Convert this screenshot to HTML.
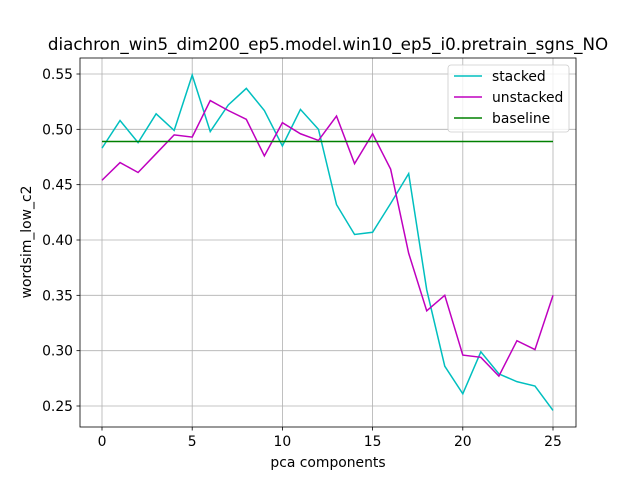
<!DOCTYPE html>
<html><head><meta charset="utf-8"><style>
body{margin:0;background:#fff;}
svg{display:block;font-family:"DejaVu Sans","Liberation Sans",sans-serif;}
</style></head><body>
<svg id="chart" width="640" height="480"></svg>
<script>
const xValues = [0,1,2,3,4,5,6,7,8,9,10,11,12,13,14,15,16,17,18,19,20,21,22,23,24,25];
const stacked = [0.483,0.508,0.488,0.514,0.499,0.549,0.498,0.522,0.537,0.517,0.485,0.518,0.500,0.432,0.405,0.407,0.433,0.460,0.355,0.286,0.261,0.299,0.279,0.272,0.268,0.246];
const unstacked = [0.454,0.470,0.461,0.478,0.495,0.493,0.526,0.517,0.509,0.476,0.506,0.496,0.490,0.512,0.469,0.496,0.464,0.388,0.336,0.350,0.296,0.294,0.277,0.309,0.301,0.350];
const baselineValue = 0.489;
const xTicks = [0,5,10,15,20,25];
const yTicks = [0.25,0.30,0.35,0.40,0.45,0.50,0.55];

const NS="http://www.w3.org/2000/svg";
const svg=document.getElementById('chart');
const L=80,R=576,T=58,B=427;
const xs=v=>102+(v-0)*(553-102)/25;
const ys=v=>406-(v-0.25)*(406-74)/0.30;
function mk(tag,attrs,parent){const e=document.createElementNS(NS,tag);for(const k in attrs)e.setAttribute(k,attrs[k]);(parent||svg).appendChild(e);return e;}

const grid=mk('g',{});


xTicks.forEach(t=>{
  mk('line',{x1:xs(t),x2:xs(t),y1:T,y2:B,stroke:'#b0b0b0','stroke-width':0.8},grid);
  mk('line',{x1:xs(t),x2:xs(t),y1:B,y2:B+3.5,stroke:'#000','stroke-width':0.8},grid);
  const tx=mk('text',{x:xs(t),y:B+19,'font-size':13.9,'text-anchor':'middle'},grid);
  tx.textContent=t;
  
  
});
yTicks.forEach(t=>{
  mk('line',{x1:L,x2:R,y1:ys(t),y2:ys(t),stroke:'#b0b0b0','stroke-width':0.8},grid);
  mk('line',{x1:L-3.5,x2:L,y1:ys(t),y2:ys(t),stroke:'#000','stroke-width':0.8},grid);
  const tx=mk('text',{x:L-7,y:ys(t)+5,'font-size':13.9,'text-anchor':'end'},grid);
  tx.textContent=t.toFixed(2);
  
  
});

function series(vals,color,name){
  const p=mk('polyline',{points:vals.map((v,i)=>xs(xValues[i])+','+ys(v)).join(' '),fill:'none',stroke:color,'stroke-width':1.5});
  
  
}
series(stacked,'#00bfbf','stacked-line');
series(unstacked,'#bf00bf','unstacked-line');
const bl=mk('line',{x1:xs(xValues[0]),x2:xs(xValues[xValues.length-1]),y1:ys(baselineValue),y2:ys(baselineValue),stroke:'#008000','stroke-width':1.5});



const frame=mk('rect',{x:L,y:T,width:R-L,height:B-T,fill:'none',stroke:'#000','stroke-width':0.8});



const title=mk('text',{x:328,y:50,'font-size':16.7,'text-anchor':'middle'});
title.textContent='diachron_win5_dim200_ep5.model.win10_ep5_i0.pretrain_sgns_NO';


const xt=mk('text',{x:328,y:467,'font-size':13.9,'text-anchor':'middle'});
xt.textContent='pca components';


const yt=mk('text',{x:31,y:242,'font-size':13.9,'text-anchor':'middle',transform:'rotate(-90 31 242)'});
yt.textContent='wordsim_low_c2';



const lg=mk('g',{});


mk('rect',{x:448,y:65,width:121,height:67,rx:3,fill:'#fff','fill-opacity':0.8,stroke:'#ccc','stroke-width':0.8},lg);
[['stacked','#00bfbf',76],['unstacked','#bf00bf',97],['baseline','#008000',118]].forEach(([n,c,y])=>{
  const e=mk('g',{},lg);
  
  
  mk('line',{x1:454,x2:482,y1:y,y2:y,stroke:c,'stroke-width':1.5},e);
  const t=mk('text',{x:492,y:y+5,'font-size':13.9},e);
  t.textContent=n;
});
</script>
</body></html>
